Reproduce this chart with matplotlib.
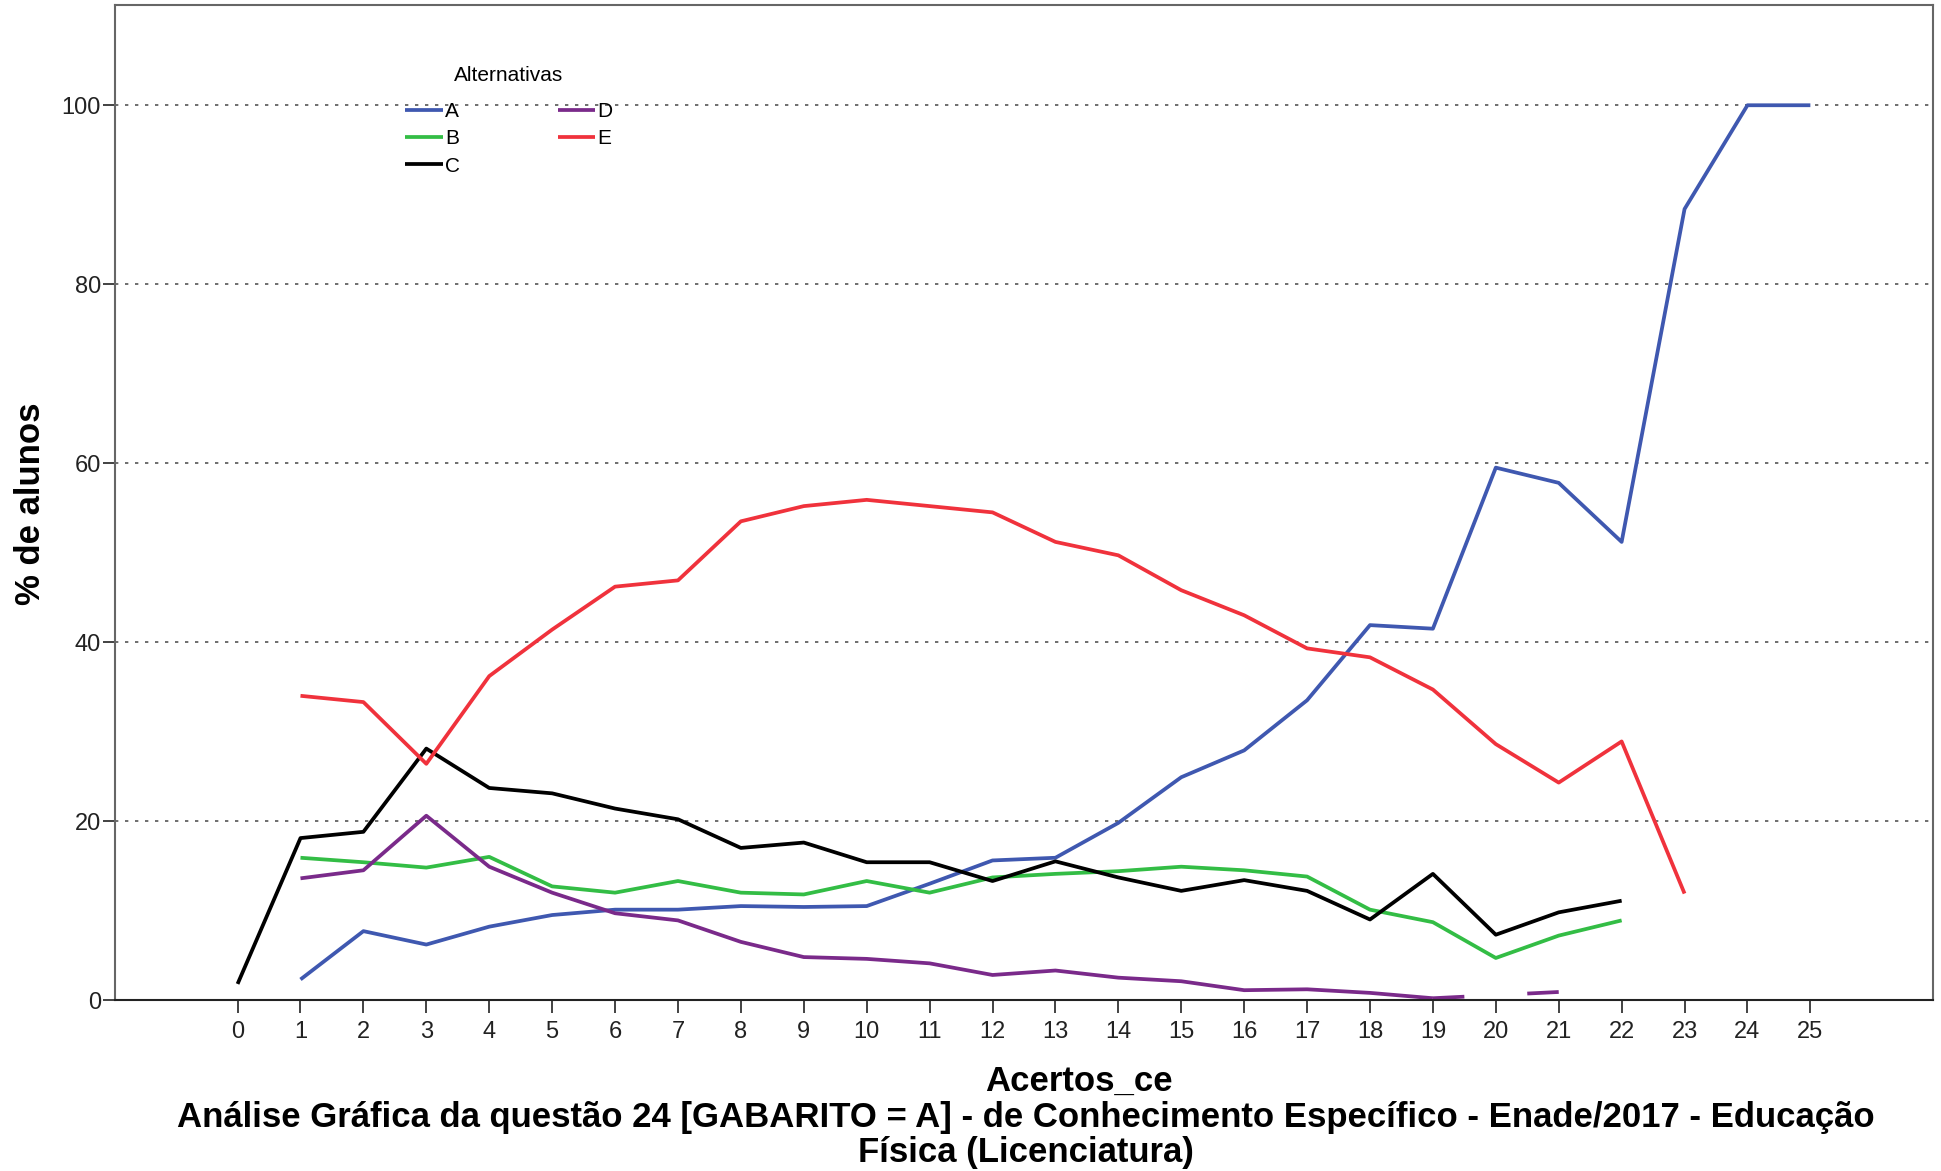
import matplotlib
matplotlib.use("Agg")
import matplotlib.pyplot as plt
import numpy as np

plt.rcParams['font.family'] = ['Liberation Sans', 'DejaVu Sans']

# Percentual de alunos que marcou cada alternativa, por número de acertos
acertos = np.arange(0, 26)
nan = np.nan
alt_a = [nan, 2.3, 7.7, 6.2, 8.2, 9.5, 10.1, 10.1, 10.5, 10.4, 10.5, 13.0, 15.6,
         15.9, 19.8, 24.9, 27.9, 33.5, 41.9, 41.5, 59.5, 57.8, 51.2, 88.4, 100, 100]
alt_b = [nan, 15.9, 15.4, 14.8, 16.0, 12.7, 12.0, 13.3, 12.0, 11.8, 13.3, 12.0, 13.7,
         14.1, 14.4, 14.9, 14.5, 13.8, 10.1, 8.7, 4.7, 7.2, 8.9, nan, nan, nan]
alt_c = [1.8, 18.1, 18.8, 28.1, 23.7, 23.1, 21.4, 20.2, 17.0, 17.6, 15.4, 15.4, 13.3,
         15.5, 13.7, 12.2, 13.4, 12.2, 9.0, 14.1, 7.3, 9.8, 11.1, nan, nan, nan]
alt_d = [nan, 13.6, 14.5, 20.6, 14.9, 12.0, 9.7, 8.9, 6.5, 4.8, 4.6, 4.1, 2.8,
         3.3, 2.5, 2.1, 1.1, 1.2, 0.8, 0.2, nan, 0.9, nan, nan, nan, nan]
alt_e = [nan, 34.0, 33.3, 26.4, 36.2, 41.4, 46.2, 46.9, 53.5, 55.2, 55.9, 55.2, 54.5,
         51.2, 49.7, 45.8, 43.0, 39.3, 38.3, 34.7, 28.6, 24.3, 28.9, 11.9, nan, nan]

series = [("A", alt_a, "#3f58b0"), ("B", alt_b, "#33bd45"), ("C", alt_c, "#000000"),
          ("D", alt_d, "#7a2a8a"), ("E", alt_e, "#f0323c")]

lw = 2.7
fig = plt.figure(figsize=(19.41, 11.71), dpi=100)
ax = fig.add_axes([0.0592, 0.146, 0.9367, 0.8497])

for nome, vals, cor in series:
    y = np.array(vals, dtype=float)
    ax.plot(acertos, y, color=cor, linewidth=lw, label=nome, solid_capstyle="butt")
    # valor ausente: traços curtos até o meio do intervalo
    for i in np.where(np.isnan(y))[0]:
        if 0 < i < len(y) - 1 and not np.isnan(y[i - 1]) and not np.isnan(y[i + 1]):
            meio = (y[i - 1] + y[i + 1]) / 2
            ax.plot([i - 1, i - 0.5], [y[i - 1], (y[i - 1] + meio) / 2],
                    color=cor, linewidth=lw, solid_capstyle="butt")
            ax.plot([i + 0.5, i + 1], [(meio + y[i + 1]) / 2, y[i + 1]],
                    color=cor, linewidth=lw, solid_capstyle="butt")

ax.set_xlim(-1.95, 26.95)
ax.set_ylim(0, 111.2)
ax.set_xticks(acertos)
ax.set_yticks([0, 20, 40, 60, 80, 100])
ax.tick_params(axis="both", colors="#222222", length=9, width=1.2)
ax.tick_params(axis="x", pad=6)
ax.tick_params(axis="y", pad=1)
for lab in ax.get_xticklabels() + ax.get_yticklabels():
    lab.set_fontfamily(['Liberation Sans Narrow', 'Liberation Sans'])
    lab.set_fontsize(17)
for y in [0, 20, 40, 60, 80, 100]:
    ax.axhline(y, color="#555555", linestyle=(0, (2, 4)), linewidth=1.2, zorder=0)

for s in ["left", "top", "right"]:
    ax.spines[s].set_color("#666666")
    ax.spines[s].set_linewidth(1.5)
ax.spines["bottom"].set_color("#222222")
ax.spines["bottom"].set_linewidth(1.5)

leg = ax.legend(title="Alternativas", ncol=2, loc="upper left",
                bbox_to_anchor=(0.1495, 0.958), frameon=False, fontsize=15,
                title_fontsize=15, handlelength=1.8, handletextpad=0.1,
                columnspacing=4.7, labelspacing=0.4)
# mais espaço entre o título da legenda e as entradas
leg._legend_box.sep = 12.5

fig.text(0.556, 0.0768, "Acertos_ce", ha="center", va="center",
         fontsize=25, fontweight="bold")
fig.text(0.5286, 0.0458, "Análise Gráfica da questão 24 [GABARITO = A] - de Conhecimento "
         "Específico - Enade/2017 - Educação", ha="center", va="center",
         fontsize=25, fontweight="bold")
fig.text(0.5286, 0.0162, "Física (Licenciatura)", ha="center", va="center",
         fontsize=25, fontweight="bold")
fig.text(0.0155, 0.57, "% de alunos", rotation=90, ha="center", va="center",
         fontsize=25, fontweight="bold")

fig.savefig("out.png", dpi=100)
